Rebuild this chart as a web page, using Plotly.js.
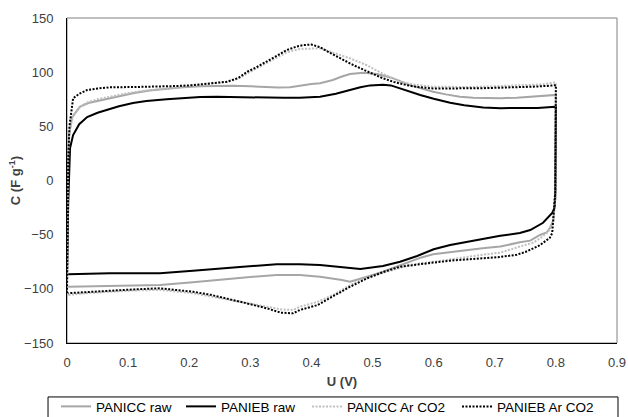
<!DOCTYPE html>
<html>
<head>
<meta charset="utf-8">
<script src="https://cdn.plot.ly/plotly-3.0.1.min.js"></script>
<style>html,body{margin:0;padding:0;background:#fff}#chart{width:628px;height:417px}</style>
</head>
<body>
<div id="chart"></div>
<script>
// PANICC raw (forward scan then reverse scan)
const ccRawU = [0, 0.003, 0.008, 0.021, 0.035, 0.054, 0.08, 0.108, 0.135, 0.163, 0.19, 0.218, 0.245, 0.272, 0.30, 0.327, 0.345, 0.365, 0.381, 0.40, 0.414, 0.435, 0.45, 0.463, 0.485, 0.507, 0.52, 0.534, 0.561, 0.58, 0.599, 0.62, 0.643, 0.665, 0.687, 0.71, 0.736, 0.76, 0.78, 0.799,
  0.8, 0.799, 0.796, 0.79, 0.785, 0.774, 0.758, 0.741, 0.709, 0.68, 0.655, 0.625, 0.599, 0.58, 0.561, 0.54, 0.517, 0.491, 0.463, 0.45, 0.435, 0.414, 0.381, 0.343, 0.30, 0.262, 0.206, 0.152, 0.11, 0.07, 0.03, 0.002];
const ccRawC = [-98, 40, 58, 68, 71.5, 74, 77.5, 80.5, 83, 84.8, 86, 87, 87.5, 87.5, 87, 86, 85.8, 86, 87.5, 89, 89.7, 92.8, 96, 98.3, 99.5, 98.3, 96.5, 94.3, 88, 85, 82, 79.5, 77.4, 76.5, 76, 76, 76.5, 77.5, 78.3, 79,
  79, -10, -36.5, -44, -48, -50.3, -55.5, -57, -61, -62.5, -64, -66, -68, -71, -75, -79.5, -84.2, -88.8, -93.4, -91.8, -90.3, -88.8, -87.2, -87.2, -89, -91.2, -94, -96.5, -97, -97.4, -97.8, -98];

// PANIEB raw
const ebRawU = [0, 0.002, 0.005, 0.01, 0.02, 0.033, 0.05, 0.065, 0.085, 0.108, 0.13, 0.163, 0.19, 0.218, 0.245, 0.272, 0.30, 0.327, 0.355, 0.381, 0.40, 0.409, 0.414, 0.44, 0.463, 0.48, 0.496, 0.517, 0.53, 0.545, 0.56, 0.578, 0.60, 0.627, 0.65, 0.681, 0.71, 0.736, 0.77, 0.799,
  0.8, 0.799, 0.798, 0.794, 0.785, 0.779, 0.758, 0.741, 0.709, 0.67, 0.627, 0.60, 0.573, 0.545, 0.517, 0.48, 0.435, 0.414, 0.381, 0.343, 0.288, 0.25, 0.206, 0.152, 0.07, 0.002];
const ebRawC = [-86, -20, 30, 42, 52, 58.6, 62.5, 65, 68.5, 71.5, 73.3, 75, 76, 77, 77.3, 77, 76.5, 76, 76.3, 76.5, 76.8, 77, 77.4, 80, 83.5, 86, 87.8, 88.5, 87.8, 85, 82.5, 79, 75.5, 71.8, 69.5, 67.5, 66.8, 66.6, 67, 68,
  68, -15, -25, -30, -36, -39, -45.7, -48.5, -51, -55, -59.5, -63.5, -69.7, -75, -79, -81.7, -79.6, -78, -77.4, -77.4, -79.6, -81.5, -83.3, -85.7, -85.7, -86.6];

// PANICC Ar CO2
const ccArU = [0, 0.002, 0.004, 0.01, 0.021, 0.033, 0.05, 0.07, 0.098, 0.125, 0.152, 0.18, 0.206, 0.235, 0.262, 0.28, 0.295, 0.31, 0.327, 0.345, 0.36, 0.381, 0.40, 0.414, 0.43, 0.447, 0.463, 0.49, 0.517, 0.545, 0.57, 0.599, 0.63, 0.66, 0.69, 0.72, 0.75, 0.78, 0.797,
  0.8, 0.799, 0.796, 0.79, 0.785, 0.775, 0.763, 0.741, 0.709, 0.68, 0.655, 0.627, 0.599, 0.561, 0.53, 0.5, 0.475, 0.455, 0.435, 0.41, 0.381, 0.37, 0.35, 0.327, 0.295, 0.262, 0.235, 0.206, 0.18, 0.152, 0.11, 0.07, 0.03, 0.002];
const ccArC = [-106, 20, 45, 60, 68, 72, 75, 77.4, 80.5, 82.8, 84.5, 86.2, 87.5, 89.3, 91, 94, 99, 103.5, 108.5, 114, 118.5, 121.4, 122, 122, 119, 116, 112.8, 106.6, 98.5, 91.2, 88.3, 86.6, 86.3, 86.3, 86.8, 87.3, 88, 88.8, 90.5,
  90, -15, -39, -45, -48.5, -53, -57.4, -61, -66.6, -68.5, -70.3, -72.5, -75, -78, -83, -88, -93, -99, -105.7, -112, -116.5, -119.5, -119, -116.5, -113, -110, -107, -104, -102.5, -101, -101.5, -102.7, -104, -105.7];

// PANIEB Ar CO2
const ebArU = [0, 0.002, 0.004, 0.007, 0.01, 0.02, 0.033, 0.05, 0.07, 0.11, 0.152, 0.18, 0.206, 0.235, 0.262, 0.28, 0.295, 0.31, 0.327, 0.345, 0.36, 0.375, 0.387, 0.40, 0.414, 0.43, 0.447, 0.465, 0.48, 0.50, 0.517, 0.535, 0.556, 0.575, 0.599, 0.63, 0.655, 0.68, 0.709, 0.735, 0.763, 0.785, 0.796,
  0.8, 0.799, 0.797, 0.794, 0.79, 0.782, 0.773, 0.763, 0.75, 0.736, 0.71, 0.681, 0.655, 0.627, 0.589, 0.545, 0.52, 0.491, 0.46, 0.435, 0.41, 0.381, 0.37, 0.35, 0.327, 0.295, 0.262, 0.235, 0.206, 0.18, 0.152, 0.11, 0.07, 0.03, 0.002];
const ebArC = [-104, 20, 50, 65, 75.9, 80, 83.5, 85, 86, 86.3, 86.6, 87.2, 88, 89.5, 91.2, 94.5, 100.4, 104.5, 109.7, 115.5, 120.5, 123.5, 125, 125.5, 123, 118, 112.8, 107.5, 103.6, 98.5, 94.3, 91, 88, 86.2, 85, 85, 85, 85.2, 85.7, 86, 86.6, 87.3, 88,
  88, -10, -27, -48.5, -53, -56.5, -60, -62.6, -66, -68.5, -70.5, -71.8, -72.8, -74, -76.5, -79.6, -84, -90.3, -99, -107.3, -115, -119.5, -122.6, -122, -118, -113.5, -108.8, -105.5, -102.7, -101, -99.5, -100.5, -102, -103, -104];

const seriesNames = ['PANICC raw', 'PANIEB raw', 'PANICC Ar CO2', 'PANIEB Ar CO2'];
const xTicks = [0, 0.1, 0.2, 0.3, 0.4, 0.5, 0.6, 0.7, 0.8, 0.9];
const xTickLabels = ['0', '0.1', '0.2', '0.3', '0.4', '0.5', '0.6', '0.7', '0.8', '0.9'];
const yTicks = [-150, -100, -50, 0, 50, 100, 150];

const font = 'Liberation Sans, Arial, sans-serif';
const txt = '#404040';

const traces = [
  {x: ccRawU, y: ccRawC, name: seriesNames[0], mode: 'lines', line: {color: '#a6a6a6', width: 2}, legend: 'legend'},
  {x: ebRawU, y: ebRawC, name: seriesNames[1], mode: 'lines', line: {color: '#000000', width: 2}, legend: 'legend2'},
  {x: ccArU, y: ccArC, name: seriesNames[2], mode: 'lines', line: {color: '#bfbfbf', width: 2, dash: '2px,1.5px'}, legend: 'legend3'},
  {x: ebArU, y: ebArC, name: seriesNames[3], mode: 'lines', line: {color: '#000000', width: 2, dash: '2px,1.5px'}, legend: 'legend4'}
];

function leg(x) {
  return {orientation: 'h', x: x, xanchor: 'left', y: -0.148, yanchor: 'top',
    borderwidth: 0, font: {family: font, size: 13.5, color: '#000'}, bgcolor: 'rgba(0,0,0,0)'};
}

const layout = {
  width: 628, height: 417,
  margin: {l: 67, r: 11, t: 18, b: 74, autoexpand: false},
  paper_bgcolor: '#fff', plot_bgcolor: '#fff',
  font: {family: font, size: 13, color: txt},
  showlegend: true,
  legend: leg(-0.02),
  legend2: leg(0.2073),
  legend3: leg(0.4364),
  legend4: leg(0.7091),
  xaxis: {range: [0, 0.9], tickvals: xTicks, ticktext: xTickLabels, showgrid: false, zeroline: false,
    showline: true, linecolor: '#000', linewidth: 1, ticks: '', ticklabelstandoff: 7, automargin: false,
    tickfont: {family: font, size: 13, color: txt},
    title: {text: '<b>U (V)</b>', font: {family: font, size: 13, color: txt}, standoff: 8}},
  yaxis: {range: [-150, 150], tickvals: yTicks, showgrid: false, zeroline: false,
    showline: true, linecolor: '#000', linewidth: 1, ticks: '', ticklabelstandoff: 10, automargin: false,
    tickfont: {family: font, size: 13, color: txt},
    title: {text: '<b>C (F g<sup>-1</sup>)</b>', font: {family: font, size: 13, color: txt}, standoff: 0}},
  shapes: [
    {type: 'rect', xref: 'paper', yref: 'paper', x0: 0, x1: 1, y0: 0, y1: 1, layer: 'below',
      line: {color: '#808080', width: 1}},
    {type: 'rect', xref: 'paper', yref: 'paper', x0: -0.0345, x1: 1.0018, y0: -0.166, y1: -0.3, layer: 'below',
      line: {color: '#000', width: 1}}
  ]
};

Plotly.newPlot('chart', traces, layout, {staticPlot: true, displayModeBar: false});
</script>
</body>
</html>
